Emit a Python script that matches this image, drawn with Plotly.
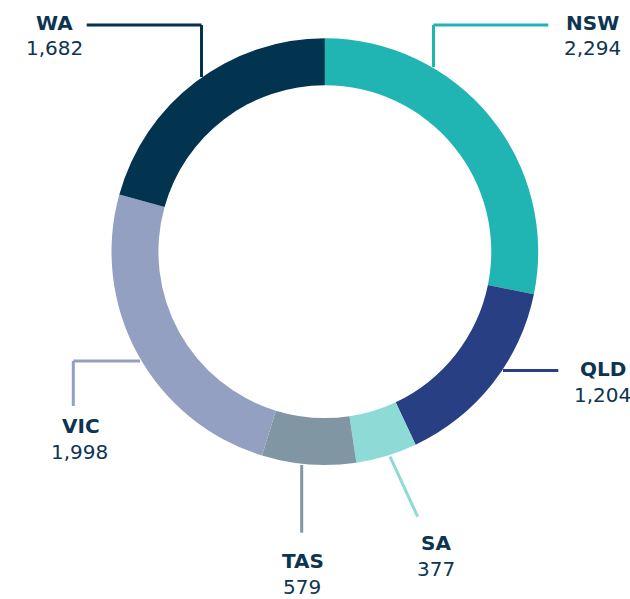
import plotly.graph_objects as go

# Data
states = ["NSW", "QLD", "SA", "TAS", "VIC", "WA"]
values = [2294, 1204, 377, 579, 1998, 1682]
colors = ["#20B5B3", "#284083", "#8DDAD7", "#8097A3", "#93A0C2", "#03344F"]

W, H = 630, 599
TEXT = "#0D3552"

def px(x):
    return x / W

def py(y):
    return 1 - y / H

fig = go.Figure()
fig.add_trace(go.Pie(
    labels=states,
    values=values,
    hole=0.78,
    sort=False,
    direction="clockwise",
    rotation=0,
    marker=dict(colors=colors, line=dict(width=0)),
    textinfo="none",
    hoverinfo="label+value",
    showlegend=False,
    domain=dict(x=[px(110.7), px(539)], y=[py(465), py(38.3)]),
))

# Leader lines (decorative layout, pixel positions)
leaders = {
    "WA": [(86.7, 25), (201.5, 25), (201.5, 77)],
    "NSW": [(548.3, 25), (433.5, 25), (433.5, 67)],
    "QLD": [(503, 370.5), (558.3, 370.5)],
    "SA": [(390, 456.7), (417.7, 516.7)],
    "TAS": [(301.7, 465), (301.7, 532.7)],
    "VIC": [(140, 361), (73.3, 361), (73.3, 406)],
}
label_pos = {
    "WA": ((54.7, 22.7), (54, 48)),
    "NSW": ((592.5, 23), (592.5, 48)),
    "QLD": ((603, 369), (602.5, 395)),
    "SA": ((436, 542.5), (436, 569)),
    "TAS": ((302.5, 561), (302, 587)),
    "VIC": ((81, 426), (79, 452)),
}

shapes = []
for s, c in zip(states, colors):
    pts = leaders[s]
    for (x0, y0), (x1, y1) in zip(pts[:-1], pts[1:]):
        shapes.append(dict(type="line", xref="paper", yref="paper",
                           x0=px(x0), y0=py(y0), x1=px(x1), y1=py(y1),
                           line=dict(color=c, width=3)))

annotations = []
for s, v in zip(states, values):
    (lx, ly), (vx, vy) = label_pos[s]
    annotations.append(dict(x=px(lx), y=py(ly), xref="paper", yref="paper",
                            text=f"<b>{s}</b>", showarrow=False,
                            xanchor="center", yanchor="middle",
                            font=dict(family="DejaVu Sans", size=20, color=TEXT)))
    annotations.append(dict(x=px(vx), y=py(vy), xref="paper", yref="paper",
                            text=f"{v:,}", showarrow=False,
                            xanchor="center", yanchor="middle",
                            font=dict(family="DejaVu Sans", size=20, color=TEXT)))

fig.update_layout(
    width=W, height=H,
    margin=dict(l=0, r=0, t=0, b=0),
    paper_bgcolor="white",
    plot_bgcolor="white",
    shapes=shapes,
    annotations=annotations,
)

fig.write_html("out.html")
